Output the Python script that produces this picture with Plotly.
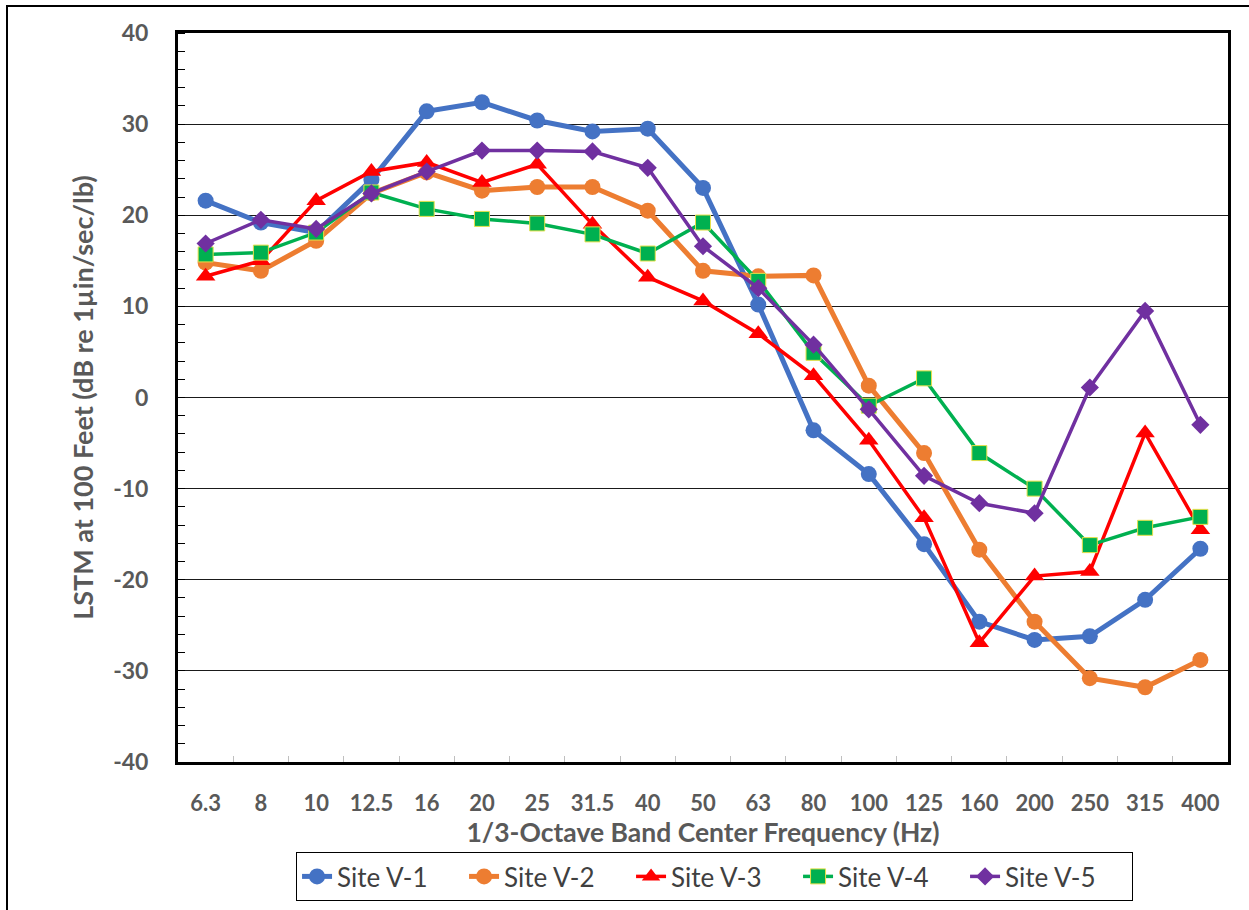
import plotly.graph_objects as go

freqs = ["6.3", "8", "10", "12.5", "16", "20", "25", "31.5", "40", "50",
         "63", "80", "100", "125", "160", "200", "250", "315", "400"]

site_v1 = [21.6, 19.2, 18.1, 23.9, 31.4, 32.4, 30.4, 29.2, 29.5, 23.0,
           10.2, -3.6, -8.4, -16.1, -24.6, -26.6, -26.2, -22.2, -16.6]
site_v2 = [14.8, 13.9, 17.2, 22.4, 24.7, 22.7, 23.1, 23.1, 20.5, 13.9,
           13.3, 13.4, 1.3, -6.1, -16.7, -24.6, -30.8, -31.8, -28.8]
site_v3 = [13.3, 15.0, 21.6, 24.8, 25.8, 23.6, 25.6, 19.0, 13.2, 10.6,
           7.0, 2.4, -4.7, -13.2, -26.9, -19.6, -19.1, -3.9, -14.5]
site_v4 = [15.7, 15.9, 18.1, 22.5, 20.7, 19.6, 19.1, 17.9, 15.8, 19.2,
           12.8, 4.9, -0.9, 2.1, -6.1, -10.0, -16.2, -14.3, -13.1]
site_v5 = [16.9, 19.5, 18.5, 22.4, 24.8, 27.1, 27.1, 27.0, 25.2, 16.6,
           12.0, 5.8, -1.3, -8.6, -11.6, -12.7, 1.1, 9.5, -3.0]

y_tick_values = [40, 30, 20, 10, 0, -10, -20, -30, -40]
y_tick_labels = ["40", "30", "20", "10", "0", "-10", "-20", "-30", "-40"]

series_names = ["Site V-1", "Site V-2", "Site V-3", "Site V-4", "Site V-5"]
series_values = [site_v1, site_v2, site_v3, site_v4, site_v5]
colors = ["#4472C4", "#ED7D31", "#FF0000", "#00B050", "#7030A0"]
symbols = ["circle", "circle", "triangle-up", "square", "diamond"]
msizes = [16, 16, 17, 15, 14]
lwidths = [5, 5, 3.5, 3.5, 3.5]
mline = ["#4472C4", "#ED7D31", "#FF0000", "#E6E04A", "#7030A0"]
mlw = [0, 0, 0, 1, 0]

font = "Lato, 'Open Sans', sans-serif"
gray = "#595959"

fig = go.Figure()
for name, vals, c, s, ms, lw, mc, mw in zip(series_names, series_values, colors,
                                            symbols, msizes, lwidths, mline, mlw):
    fig.add_trace(go.Scatter(
        x=freqs, y=vals, name=name, mode="lines+markers",
        line=dict(color=c, width=lw),
        marker=dict(symbol=s, size=ms, color=c, line=dict(color=mc, width=mw)),
    ))

L, T, R, B = 178, 33, 1228, 762
W, H = 1249, 910
pw, ph = R - L, B - T

def px(x):
    return (x - L) / pw

def py(y):
    return (B - y) / ph

fig.update_layout(
    width=W, height=H,
    margin=dict(l=L, r=W - R, t=T, b=H - B, autoexpand=False),
    paper_bgcolor="white", plot_bgcolor="white",
    font=dict(family=font, color=gray),
    showlegend=True,
    legend=dict(
        orientation="h", x=0.511, xanchor="center", y=py(852), yanchor="top",
        bordercolor="#000000", borderwidth=1,
        font=dict(size=26, color="#404040", family=font),
        tracegroupgap=0, itemwidth=30,
        entrywidth=122, entrywidthmode="pixels",
    ),
    xaxis=dict(
        type="category", range=[-0.5, 18.5],
        showline=True, linecolor="black", linewidth=3, mirror=True,
        ticks="inside", tickson="boundaries", ticklen=6, tickcolor="#BFBFBF",
        tickfont=dict(size=22, color=gray, family=font, weight="bold"),
        ticklabelstandoff=20,
        showgrid=False, zeroline=False,
        title=dict(text="1/3-Octave Band Center Frequency (Hz)", standoff=3,
                   font=dict(size=26.5, color=gray, family=font, weight="bold")),
    ),
    yaxis=dict(
        range=[-40, 40], tickvals=y_tick_values, ticktext=y_tick_labels,
        showline=True, linecolor="black", linewidth=3, mirror=True,
        ticks="", showgrid=True, gridcolor="#1A1A1A", gridwidth=1,
        zeroline=False,
        minor=dict(dtick=2, tick0=0, ticks="inside", ticklen=7, tickcolor="black",
                   tickwidth=1, showgrid=False),
        tickfont=dict(size=23, color=gray, family=font, weight="bold"),
        ticklabelstandoff=22,
        title=dict(text="LSTM at 100 Feet (dB re 1µin/sec/lb)", standoff=12,
                   font=dict(size=27, color=gray, family=font, weight="bold")),
    ),
    shapes=[dict(type="rect", xref="paper", yref="paper",
                 x0=px(7), x1=px(1260), y0=py(930), y1=py(6),
                 line=dict(color="black", width=2), fillcolor="rgba(0,0,0,0)",
                 layer="below")],
)

fig.write_html("out.html")
